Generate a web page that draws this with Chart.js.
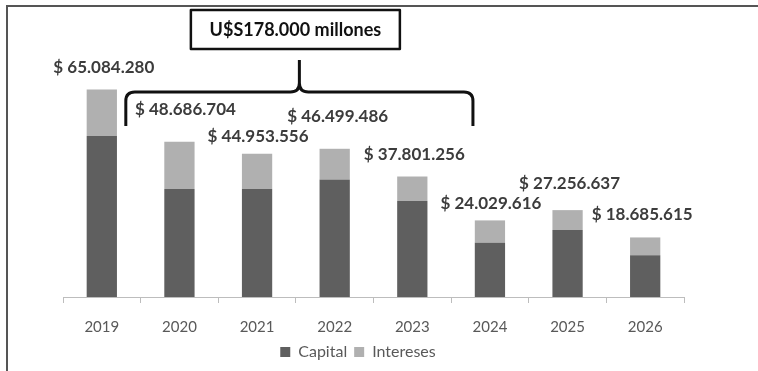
<!DOCTYPE html>
<html>
<head>
<meta charset="utf-8">
<script src="https://cdn.jsdelivr.net/npm/chart.js@4"></script>
<style>
  html, body { margin: 0; padding: 0; background: #fff; }
  #wrap { position: relative; width: 758px; height: 371px; overflow: hidden; }
  #frame { position: absolute; left: 6px; top: 5px; width: 760px; height: 380px;
           border-top: 2px solid #555; border-left: 2px solid #555; pointer-events: none; }
  canvas { position: absolute; left: 0; top: 0; }
</style>
</head>
<body>
<div id="wrap">
  <canvas id="c" width="758" height="371"></canvas>
  <div id="frame"></div>
</div>
<script>
// ---- data ----
const years = ['2019', '2020', '2021', '2022', '2023', '2024', '2025', '2026'];
const capital = [50500000, 33900000, 33900000, 36900000, 30100000, 17000000, 21000000, 13100000];
const intereses = [14584280, 14786704, 11053556, 9599486, 7701256, 7029616, 6256637, 5585615];
const totalLabels = ['$ 65.084.280', '$ 48.686.704', '$ 44.953.556', '$ 46.499.486',
                     '$ 37.801.256', '$ 24.029.616', '$ 27.256.637', '$ 18.685.615'];
const totals = [65084280, 48686704, 44953556, 46499486, 37801256, 24029616, 27256637, 18685615];
const bracketText = 'U$S178.000 millones';

// ---- label placement (styling) ----
const labelDy = [22, 32, 17, 32, 22, 17, 27, 23];
const labelDx = [2, 6, 1, 3, 2, 1, 2, -3];

const valueLabels = {
  id: 'valueLabels',
  afterDatasetsDraw(chart) {
    const ctx = chart.ctx;
    const xs = chart.scales.x, ys = chart.scales.y;
    ctx.save();
    ctx.font = 'bold 17px Lato';
    ctx.fillStyle = '#3c3c3c';
    ctx.textAlign = 'center';
    ctx.textBaseline = 'middle';
    totals.forEach((v, i) => {
      const x = xs.getPixelForValue(i) + labelDx[i];
      const y = ys.getPixelForValue(v) - labelDy[i];
      ctx.fillText(totalLabels[i], x, y);
    });
    ctx.restore();
  }
};

const bracket = {
  id: 'bracket',
  afterDraw(chart) {
    const ctx = chart.ctx;
    const xs = chart.scales.x;
    const x0 = xs.getPixelForValue(0) + 24;   // left end
    const x1 = xs.getPixelForValue(5) - 17;   // right end
    const xm = (x0 + x1) / 2;
    const yh = 92, yEnd = 126, yTip = 60, r = 9;
    ctx.save();
    ctx.strokeStyle = '#111';
    ctx.lineWidth = 3;
    ctx.lineJoin = 'round';
    ctx.beginPath();
    ctx.moveTo(x0, yEnd);
    ctx.lineTo(x0, yh + r);
    ctx.quadraticCurveTo(x0, yh, x0 + r, yh);
    ctx.lineTo(xm - r, yh);
    ctx.quadraticCurveTo(xm, yh, xm, yh - r);
    ctx.lineTo(xm, yTip);
    ctx.moveTo(xm, yh - r);
    ctx.quadraticCurveTo(xm, yh, xm + r, yh);
    ctx.lineTo(x1 - r, yh);
    ctx.quadraticCurveTo(x1, yh, x1, yh + r);
    ctx.lineTo(x1, yEnd);
    ctx.stroke();
    // box
    ctx.lineWidth = 2.5;
    const bw = 209, bh = 39;
    ctx.strokeRect(xm - bw / 2 - 4, 10, bw, bh);
    ctx.fillStyle = '#111';
    ctx.font = 'bold 18px Lato';
    ctx.textAlign = 'center';
    ctx.textBaseline = 'middle';
    ctx.fillText(bracketText, xm - 4, 30);
    ctx.restore();
  }
};

new Chart(document.getElementById('c'), {
  type: 'bar',
  data: {
    labels: years,
    datasets: [
      { label: 'Capital', data: capital, backgroundColor: '#5f5f5f' },
      { label: 'Intereses', data: intereses, backgroundColor: '#b0b0b0' }
    ]
  },
  options: {
    responsive: false,
    animation: false,
    devicePixelRatio: 1,
    layout: { padding: { left: 32, right: 74, top: 42, bottom: 1 } },
    datasets: { bar: { categoryPercentage: 1, barPercentage: 0.39 } },
    scales: {
      x: {
        stacked: true,
        grid: { display: true, drawOnChartArea: false, drawTicks: true, tickLength: 6,
                color: '#bdbdbd', offset: true },
        border: { display: true, color: '#bdbdbd', width: 1 },
        ticks: { font: { family: 'Lato', size: 15 }, color: '#595959', padding: 15 },
        afterFit(s) { s.height = 40; }
      },
      y: {
        stacked: true,
        min: 0, max: 80000000,
        grid: { display: false },
        border: { display: false },
        ticks: { display: false },
        afterFit(s) { s.width = 31; }
      }
    },
    plugins: {
      legend: {
        position: 'bottom',
        labels: { boxWidth: 10, boxHeight: 10, font: { family: 'Lato', size: 16 },
                  color: '#595959', padding: 7 }
      },
      tooltip: { enabled: false }
    }
  },
  plugins: [valueLabels, bracket]
});
</script>
</body>
</html>
